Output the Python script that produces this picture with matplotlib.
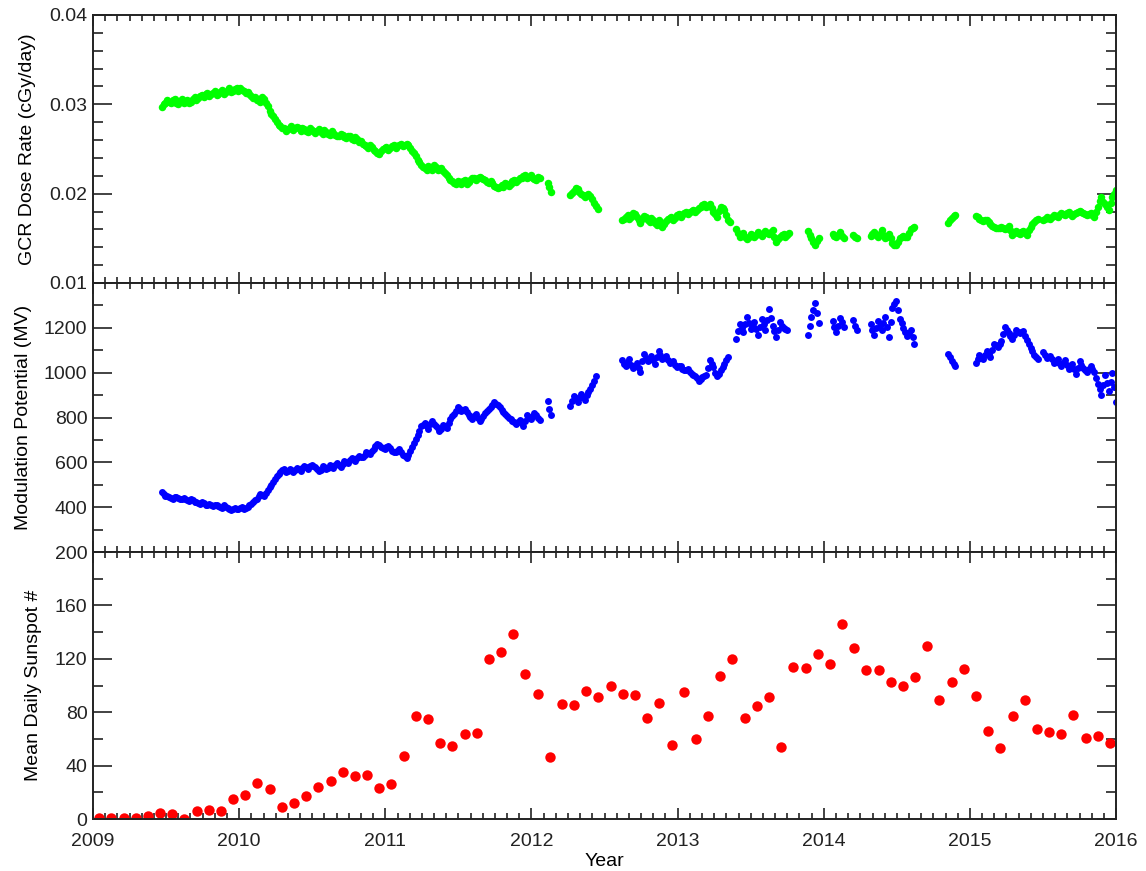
import numpy as np
import matplotlib.pyplot as plt
from matplotlib.ticker import MultipleLocator

plt.rcParams['font.family'] = ['Liberation Sans', 'DejaVu Sans']

# spacing of the dosimeter samples, in years
STEP = 0.025

# start year of each run of dosimeter samples (gaps in between)
run_starts = [2009.47, 2012.11, 2012.265, 2012.62, 2013.40, 2013.89,
              2014.06, 2014.20, 2014.32, 2014.85, 2015.04, 2015.50]

# GCR dose rate (cGy/day), samples on the run grid
gcr_runs = [
    [0.0297, 0.0301, 0.0303, 0.0305, 0.0302, 0.0304, 0.0301, 0.0305, 0.0303, 0.0308,
     0.0307, 0.0310, 0.0312, 0.0309, 0.0313, 0.0310, 0.0314, 0.0312, 0.0316, 0.0314,
     0.0317, 0.0315, 0.0316, 0.0313, 0.0311, 0.0307, 0.0305, 0.0303, 0.0306, 0.0298,
     0.0289, 0.0284, 0.0277, 0.0273, 0.0270, 0.0274, 0.0271, 0.0275, 0.0270, 0.0272,
     0.0269, 0.0271, 0.0268, 0.0272, 0.0267, 0.0269, 0.0266, 0.0268, 0.0264, 0.0267,
     0.0263, 0.0265, 0.0261, 0.0263, 0.0258, 0.0256, 0.0253, 0.0254, 0.0249, 0.0246,
     0.0248, 0.0251, 0.0249, 0.0253, 0.0251, 0.0255, 0.0253, 0.0256, 0.0251, 0.0245,
     0.0238, 0.0232, 0.0229, 0.0231, 0.0227, 0.0230, 0.0228, 0.0225, 0.0221, 0.0215,
     0.0212, 0.0214, 0.0211, 0.0215, 0.0213, 0.0217, 0.0215, 0.0219, 0.0216, 0.0213,
     0.0214, 0.0209, 0.0206, 0.0210, 0.0212, 0.0209, 0.0214, 0.0213, 0.0217, 0.0220,
     0.0218, 0.0221, 0.0216, 0.0219],
    [0.0212, 0.0202],
    [0.0198, 0.0203, 0.0205, 0.0200, 0.0196, 0.0200, 0.0194, 0.0186],
    [0.0170, 0.0174, 0.0172, 0.0178, 0.0174, 0.0167, 0.0175, 0.0170, 0.0173, 0.0167,
     0.0171, 0.0163, 0.0169, 0.0173, 0.0171, 0.0176, 0.0174, 0.0178, 0.0177, 0.0181,
     0.0180, 0.0184, 0.0187, 0.0185, 0.0188, 0.0180, 0.0174, 0.0185, 0.0182, 0.0171],
    [0.0160, 0.0152, 0.0156, 0.0149, 0.0155, 0.0151, 0.0157, 0.0153, 0.0158, 0.0155,
     0.0159, 0.0146, 0.0152, 0.0155, 0.0154],
    [0.0158, 0.0150, 0.0143, 0.0150],
    [0.0155, 0.0152, 0.0157, 0.0150],
    [0.0154, 0.0150],
    [0.0153, 0.0157, 0.0151, 0.0159, 0.0150, 0.0155, 0.0145, 0.0142, 0.0150, 0.0153,
     0.0151, 0.0160, 0.0163],
    [0.0167, 0.0173, 0.0176],
    [0.0175, 0.0172, 0.0169, 0.0171, 0.0166, 0.0163, 0.0161, 0.0163, 0.0160, 0.0164,
     0.0154, 0.0158, 0.0155, 0.0158, 0.0154, 0.0163, 0.0168, 0.0172],
    [0.0170, 0.0174, 0.0172, 0.0176, 0.0174, 0.0178, 0.0176, 0.0179, 0.0175, 0.0178,
     0.0181, 0.0178, 0.0176, 0.0178, 0.0174, 0.0185, 0.0196, 0.0188, 0.0182, 0.0196,
     0.0204],
]

# GCR dose rate, samples half a step after the grid
gcr_mid_runs = [
    [0.0300, 0.0305, 0.0301, 0.0306, 0.0300, 0.0306, 0.0303, 0.0301, 0.0306, 0.0305,
     0.0309, 0.0308, 0.0313, 0.0311, 0.0315, 0.0312, 0.0316, 0.0314, 0.0318, 0.0315,
     0.0318, 0.0318, 0.0315, 0.0314, 0.0309, 0.0308, 0.0306, 0.0308, 0.0302, 0.0293,
     0.0287, 0.0280, 0.0276, 0.0274, 0.0272, 0.0276, 0.0273, 0.0273, 0.0274, 0.0270,
     0.0273, 0.0270, 0.0270, 0.0269, 0.0271, 0.0267, 0.0270, 0.0266, 0.0265, 0.0266,
     0.0262, 0.0264, 0.0260, 0.0261, 0.0259, 0.0255, 0.0251, 0.0252, 0.0248, 0.0244,
     0.0250, 0.0252, 0.0251, 0.0254, 0.0253, 0.0256, 0.0254, 0.0255, 0.0248, 0.0242,
     0.0235, 0.0230, 0.0227, 0.0229, 0.0232, 0.0226, 0.0229, 0.0223, 0.0218, 0.0214,
     0.0211, 0.0213, 0.0214, 0.0211, 0.0215, 0.0218, 0.0217, 0.0218, 0.0215, 0.0212,
     0.0212, 0.0208, 0.0207, 0.0208, 0.0211, 0.0211, 0.0215, 0.0215, 0.0218, 0.0221,
     0.0219, 0.0218, 0.0215, 0.0217],
    [0.0208],
    [0.0201, 0.0206, 0.0202, 0.0198, 0.0199, 0.0197, 0.0190, 0.0183],
    [0.0172, 0.0176, 0.0174, 0.0177, 0.0171, 0.0172, 0.0174, 0.0168, 0.0170, 0.0165,
     0.0167, 0.0166, 0.0172, 0.0174, 0.0173, 0.0177, 0.0176, 0.0180, 0.0179, 0.0182,
     0.0182, 0.0185, 0.0188, 0.0186, 0.0184, 0.0177, 0.0181, 0.0184, 0.0176, 0.0168],
    [0.0156, 0.0154, 0.0152, 0.0152, 0.0153, 0.0154, 0.0155, 0.0156, 0.0156, 0.0157,
     0.0152, 0.0149, 0.0154, 0.0151, 0.0156],
    [0.0154, 0.0146, 0.0147],
    [0.0153, 0.0154, 0.0153],
    [0.0152],
    [0.0155, 0.0154, 0.0155, 0.0154, 0.0152, 0.0150, 0.0143, 0.0146, 0.0152, 0.0151,
     0.0156, 0.0161],
    [0.0170, 0.0175],
    [0.0174, 0.0170, 0.0170, 0.0168, 0.0164, 0.0162, 0.0162, 0.0161, 0.0162, 0.0159,
     0.0156, 0.0156, 0.0157, 0.0156, 0.0159, 0.0166, 0.0170],
    [0.0172, 0.0173, 0.0174, 0.0175, 0.0176, 0.0177, 0.0178, 0.0177, 0.0177, 0.0180,
     0.0179, 0.0177, 0.0177, 0.0176, 0.0180, 0.0192, 0.0191, 0.0185, 0.0190, 0.0200],
]

# modulation potential (MV), samples on the run grid
mod_runs = [
    [468, 452, 445, 438, 446, 435, 441, 430, 436, 422,
     418, 425, 410, 415, 405, 412, 400, 408, 395, 388,
     398, 392, 400, 395, 410, 425, 438, 460, 448, 475,
     500, 525, 548, 565, 558, 570, 555, 575, 562, 585,
     570, 590, 578, 560, 582, 570, 588, 575, 598, 580,
     605, 595, 620, 608, 630, 622, 645, 638, 660, 682,
     668, 660, 672, 650, 645, 660, 635, 620, 650, 685,
     720, 760, 775, 750, 785, 760, 740, 765, 755, 795,
     815, 845, 828, 840, 810, 795, 815, 785, 805, 830,
     845, 870, 855, 835, 815, 800, 785, 770, 790, 760,
     810, 795, 820, 800],
    [872, 812],
    [850, 895, 870, 905, 880, 915, 945, 985],
    [1055, 1030, 1060, 1020, 1045, 1005, 1085, 1050, 1075, 1040,
     1095, 1060, 1075, 1045, 1050, 1025, 1030, 1010, 1015, 995,
     985, 965, 980, 990, 1055, 1025, 985, 1010, 1040, 1070],
    [1150, 1215, 1180, 1250, 1195, 1225, 1170, 1240, 1190, 1285,
     1210, 1160, 1225, 1200, 1190],
    [1170, 1250, 1310, 1220],
    [1230, 1180, 1245, 1205],
    [1235, 1190],
    [1215, 1170, 1230, 1190, 1250, 1160, 1290, 1320, 1240, 1200,
     1165, 1190, 1130],
    [1085, 1050, 1030],
    [1045, 1080, 1060, 1095, 1070, 1130, 1115, 1140, 1205, 1175,
     1150, 1190, 1175, 1185, 1145, 1110, 1080, 1060],
    [1090, 1065, 1075, 1045, 1060, 1030, 1055, 1015, 1040, 995,
     1050, 1020, 1005, 1030, 1005, 950, 900, 990, 920, 1000,
     870],
]

# modulation potential, samples half a step after the grid
mod_mid_runs = [
    [458, 448, 442, 444, 440, 438, 436, 427, 430, 424,
     415, 418, 412, 408, 410, 404, 398, 402, 392, 394,
     390, 396, 392, 402, 416, 430, 452, 455, 465, 488,
     512, 538, 555, 572, 562, 565, 566, 570, 576, 578,
     582, 585, 570, 568, 578, 575, 582, 588, 590, 592,
     600, 610, 615, 618, 626, 632, 640, 650, 672, 676,
     664, 668, 662, 648, 652, 648, 628, 635, 668, 702,
     740, 768, 762, 770, 772, 752, 750, 760, 775, 805,
     830, 838, 832, 825, 802, 808, 798, 795, 818, 838,
     858, 862, 845, 825, 808, 792, 778, 780, 775, 785,
     802, 808, 810, 790],
    [840],
    [872, 885, 888, 893, 900, 928, 962],
    [1040, 1048, 1035, 1030, 1020, 1050, 1065, 1062, 1055, 1070,
     1078, 1065, 1058, 1048, 1035, 1028, 1018, 1012, 1002, 988,
     975, 970, 985, 1020, 1040, 1000, 995, 1025, 1058],
    [1185, 1200, 1215, 1220, 1210, 1195, 1205, 1215, 1235, 1245,
     1185, 1190, 1210, 1195],
    [1210, 1280, 1265],
    [1205, 1210, 1225],
    [1210],
    [1190, 1200, 1210, 1220, 1205, 1225, 1305, 1280, 1220, 1180,
     1178, 1160],
    [1068, 1040],
    [1062, 1070, 1078, 1082, 1100, 1122, 1128, 1172, 1190, 1162,
     1170, 1182, 1180, 1165, 1128, 1095, 1070],
    [1078, 1070, 1060, 1052, 1045, 1042, 1035, 1028, 1018, 1022,
     1035, 1012, 1018, 1018, 978, 925, 945, 955, 960, 935],
]

# monthly mean daily sunspot number, Jan 2009 - Dec 2015
sunspot_first_month = 2009.0
sunspots = [0.6, 0.8, 0.5, 0.9, 2.0, 4.8, 3.9, 0.0, 5.8, 6.8, 5.8, 15.0,
            18.0, 27.0, 22.8, 9.0, 12.3, 17.0, 23.7, 28.2, 35.0, 32.2, 33.0, 23.0,
            26.0, 47.3, 77.5, 75.0, 57.3, 55.0, 63.8, 64.8, 119.8, 125.0, 138.8, 108.8,
            93.8, 46.8, 85.8, 85.3, 95.8, 91.5, 99.5, 93.8, 93.0, 75.5, 86.8, 55.8,
            95.5, 59.8, 77.5, 106.8, 120.0, 75.8, 85.0, 91.3, 53.8, 113.8, 113.3, 123.8,
            116.3, 145.8, 128.3, 112.0, 112.0, 102.3, 99.3, 106.3, 129.8, 89.3, 103.0, 112.5,
            92.3, 65.8, 53.5, 77.3, 89.3, 67.3, 65.5, 63.8, 77.8, 60.5, 62.3, 56.8]


def expand(starts, runs, offset=0.0):
    x = np.concatenate([s + offset + STEP * np.arange(len(r))
                        for s, r in zip(starts, runs)])
    y = np.concatenate([np.asarray(r, dtype=float) for r in runs])
    return x, y


def both_samplings(runs, mid_runs):
    x1, y1 = expand(run_starts, runs)
    x2, y2 = expand(run_starts, mid_runs, STEP / 2)
    x = np.concatenate([x1, x2])
    y = np.concatenate([y1, y2])
    order = np.argsort(x)
    return x[order], y[order]


def style_axis(ax):
    ax.set_xlim(2009, 2016)
    ax.xaxis.set_major_locator(MultipleLocator(1))
    ax.xaxis.set_minor_locator(MultipleLocator(1 / 12))
    ax.tick_params(which='both', direction='in', top=True, right=True,
                   width=1.2, labelsize=14, colors='#222222')
    ax.tick_params(axis='y', which='major', length=14, pad=4)
    ax.tick_params(axis='y', which='minor', length=7)
    ax.tick_params(axis='x', which='major', length=8, pad=10)
    ax.tick_params(axis='x', which='minor', length=4)
    for sp in ax.spines.values():
        sp.set_linewidth(1.4)
        sp.set_color('#222222')


def main():
    fig = plt.figure(figsize=(11.46, 8.71), dpi=100)
    left, width = 0.0812, 0.8927
    ax1 = fig.add_axes([left, 0.6751, width, 0.3077])
    ax2 = fig.add_axes([left, 0.3662, width, 0.3089], sharex=ax1)
    ax3 = fig.add_axes([left, 0.0597, width, 0.3065], sharex=ax1)

    gx, gy = both_samplings(gcr_runs, gcr_mid_runs)
    ax1.plot(gx, gy, 'o', color='#00ff00', ms=5.4, mew=0)
    ax1.set_ylim(0.01, 0.04)
    ax1.set_yticks([0.01, 0.02, 0.03, 0.04])
    ax1.set_yticklabels(['0.01', '0.02', '0.03', '0.04'])
    ax1.yaxis.set_minor_locator(MultipleLocator(0.002))
    ax1.set_ylabel('GCR Dose Rate (cGy/day)', fontsize=14)
    ax1.yaxis.set_label_coords(-0.056, 0.5)

    mx, my = both_samplings(mod_runs, mod_mid_runs)
    ax2.plot(mx, my, 'o', color='#0000ff', ms=5.0, mew=0)
    ax2.set_ylim(200, 1400)
    ax2.set_yticks(range(200, 1401, 200))
    ax2.set_yticklabels(['200', '400', '600', '800', '1000', '1200', ''])
    ax2.yaxis.set_minor_locator(MultipleLocator(100))
    ax2.set_ylabel('Modulation Potential (MV)', fontsize=14)
    ax2.yaxis.set_label_coords(-0.060, 0.5)

    months = sunspot_first_month + (np.arange(len(sunspots)) + 0.5) / 12
    ax3.plot(months, sunspots, 'o', color='#ff0000', ms=7.5, mew=0)
    ax3.set_ylim(0, 200)
    ax3.set_yticks(range(0, 201, 40))
    ax3.set_yticklabels(['0', '40', '80', '120', '160', ''])
    ax3.yaxis.set_minor_locator(MultipleLocator(20))
    ax3.set_ylabel('Mean Daily Sunspot #', fontsize=14)
    ax3.yaxis.set_label_coords(-0.050, 0.5)
    ax3.set_xlabel('Year', fontsize=14, labelpad=2)

    for ax in (ax1, ax2, ax3):
        style_axis(ax)
    for ax in (ax1, ax2):
        ax.tick_params(axis='x', labelbottom=False)
    ax3.set_xticks(range(2009, 2017))
    ax3.set_xticklabels([str(y) for y in range(2009, 2017)])

    fig.savefig('out.png', dpi=100)


if __name__ == '__main__':
    main()
